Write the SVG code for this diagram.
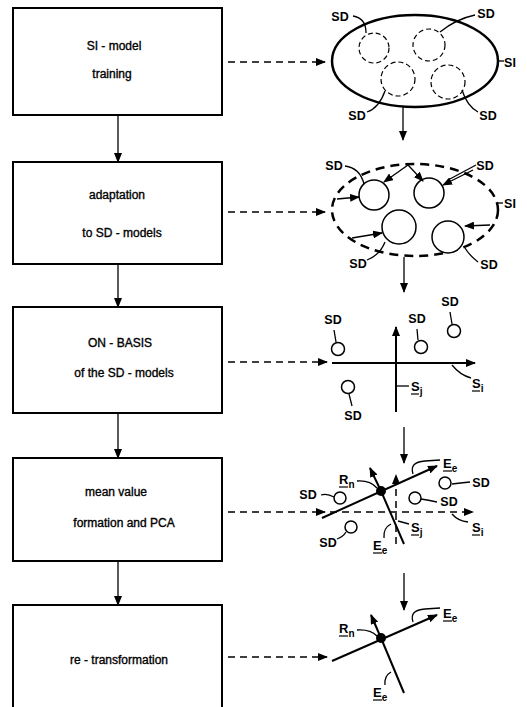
<svg xmlns="http://www.w3.org/2000/svg" width="527" height="707" viewBox="0 0 527 707">
<style>
.box{fill:#fff;stroke:#000;stroke-width:2}
.bt{font-family:"Liberation Sans",Arial,sans-serif;font-size:12px;fill:#000;stroke:#000;stroke-width:0.35;text-anchor:middle}
.lb{font-family:"Liberation Sans",Arial,sans-serif;font-size:12.5px;font-weight:bold;fill:#000;text-anchor:middle}
.sym{font-family:"Liberation Sans",Arial,sans-serif;font-size:13px;font-weight:bold;fill:#000}
.sub{font-size:10px}
.ln{fill:none;stroke:#000;stroke-width:1.3}
.th{fill:none;stroke:#000;stroke-width:2}
.ds{fill:none;stroke:#000;stroke-width:1.5;stroke-dasharray:7,5}
.dc{fill:none;stroke:#000;stroke-width:1.2;stroke-dasharray:5,3}
.ce{fill:#fff;stroke:#000;stroke-width:1.5}
.ul{stroke:#000;stroke-width:1.2}
</style>
<defs>
<marker id="ah" markerWidth="10" markerHeight="8" refX="9" refY="4" orient="auto" markerUnits="userSpaceOnUse">
<path d="M0,0 L10,4 L0,8 Z" fill="#000"/>
</marker>
</defs>

<g id="box1"><rect class="box" x="13" y="8" width="209" height="107"/>
<text class="bt" x="114" y="50">SI - model</text><text class="bt" x="112" y="78">training</text></g>
<g id="box2"><rect class="box" x="13" y="162" width="209" height="102"/>
<text class="bt" x="117" y="199">adaptation</text><text class="bt" x="122" y="237">to SD - models</text></g>
<g id="box3"><rect class="box" x="13" y="307" width="209" height="106"/>
<text class="bt" x="120" y="347">ON  -  BASIS</text><text class="bt" x="124" y="377">of the SD - models</text></g>
<g id="box4"><rect class="box" x="13" y="458" width="209" height="103"/>
<text class="bt" x="116" y="496">mean value</text><text class="bt" x="124" y="527">formation and PCA</text></g>
<g id="box5"><rect class="box" x="13" y="605" width="209" height="120"/>
<text class="bt" x="119" y="664">re - transformation</text></g>

<g id="diagram1">
<ellipse cx="415" cy="61" rx="83" ry="46" fill="none" stroke="#000" stroke-width="2.5"/>
<circle class="dc" cx="374" cy="48" r="15"/>
<circle class="dc" cx="429" cy="45" r="16"/>
<circle class="dc" cx="398" cy="79" r="17"/>
<circle class="dc" cx="448" cy="82" r="17"/>
<text class="lb" x="340" y="21">SD</text><path class="ln" d="M353,16 Q366,18 366,33"/>
<text class="lb" x="486" y="18">SD</text><path class="ln" d="M475,15 Q456,19 440,32"/>
<text class="lb" x="510" y="67">SI</text><path class="ln" d="M498,61 L504,61"/>
<text class="lb" x="357" y="120">SD</text><path class="ln" d="M367,112 Q379,108 385,91"/>
<text class="lb" x="488" y="120">SD</text><path class="ln" d="M478,112 Q467,106 462,90"/>
</g>

<g id="diagram2">
<ellipse cx="415" cy="210" rx="83" ry="46" fill="none" stroke="#000" stroke-width="2.5" stroke-dasharray="9,6"/>
<circle class="ce" cx="374" cy="195" r="15"/>
<circle class="ce" cx="429" cy="193" r="15"/>
<circle class="ce" cx="399" cy="227" r="17"/>
<circle class="ce" cx="448" cy="237" r="16"/>
<text class="lb" x="334" y="170">SD</text><path class="ln" d="M345,166 Q360,168 364,184"/>
<text class="lb" x="485" y="170">SD</text><path class="ln" d="M476,165 L448,180"/>
<text class="lb" x="510" y="208">SI</text><path class="ln" d="M497,203 L503,203"/>
<text class="lb" x="358" y="268">SD</text><path class="ln" d="M367,260 Q380,255 385,242"/>
<text class="lb" x="489" y="269">SD</text><path class="ln" d="M478,262 Q470,256 465,248"/>
</g>

<g id="diagram3">
<circle class="ce" cx="338" cy="349" r="6.5"/>
<circle class="ce" cx="421" cy="347" r="6.5"/>
<circle class="ce" cx="454" cy="331" r="6.5"/>
<circle class="ce" cx="348" cy="387" r="6.5"/>
<text class="lb" x="333" y="324">SD</text><path class="ln" d="M334,330 L336,342"/>
<text class="lb" x="417" y="323">SD</text><path class="ln" d="M417,329 L418,340"/>
<text class="lb" x="450" y="306">SD</text><path class="ln" d="M450,312 L452,324"/>
<text class="lb" x="353" y="420">SD</text><path class="ln" d="M349,394 L352,406"/>
<text class="sym" x="472" y="388">S<tspan class="sub" dy="4">i</tspan></text><line class="ul" x1="472" y1="391" x2="480" y2="391"/>
<path class="ln" d="M452,365 Q460,375 471,378"/>
<text class="sym" x="411" y="391">S<tspan class="sub" dy="4">j</tspan></text><line class="ul" x1="411" y1="394" x2="419" y2="394"/>
<path class="ln" d="M397,386 L409,386"/>
</g>

<g id="diagram4">
<circle class="ce" cx="340" cy="498" r="6"/>
<circle class="ce" cx="415" cy="498" r="6"/>
<circle class="ce" cx="445" cy="483" r="6"/>
<circle class="ce" cx="351" cy="527" r="6"/>
<text class="lb" x="308" y="499">SD</text><path class="ln" d="M321,495 Q327,493 334,497"/>
<text class="lb" x="481" y="487">SD</text><path class="ln" d="M452,484 Q460,483 470,482"/>
<text class="lb" x="449" y="506">SD</text><path class="ln" d="M421,499 Q428,500 437,502"/>
<text class="lb" x="328" y="547">SD</text><path class="ln" d="M337,539 Q343,537 346,532"/>
<circle cx="381" cy="491" r="5" fill="#000"/>
<text class="sym" x="339" y="484">R<tspan class="sub" dy="4">n</tspan></text><line class="ul" x1="339" y1="487" x2="348" y2="487"/>
<path class="ln" d="M357,481 Q370,480 377,488"/>
<text class="sym" x="443" y="468">E<tspan class="sub" dy="4">e</tspan></text><line class="ul" x1="443" y1="471" x2="452" y2="471"/>
<path class="ln" d="M413,474 Q409,462 425,461 L440,460"/>
<text class="sym" x="373" y="550">E<tspan class="sub" dy="4">e</tspan></text><line class="ul" x1="373" y1="553" x2="382" y2="553"/>
<path class="ln" d="M384,538 Q383,528 391,524"/>
<text class="sym" x="411" y="532">S<tspan class="sub" dy="4">j</tspan></text><line class="ul" x1="411" y1="535" x2="419" y2="535"/>
<path class="ln" d="M398,521 L409,524"/>
<text class="sym" x="472" y="532">S<tspan class="sub" dy="4">i</tspan></text><line class="ul" x1="472" y1="535" x2="480" y2="535"/>
<path class="ln" d="M452,514 Q458,521 468,522"/>
</g>

<g id="diagram5">
<circle cx="381" cy="638" r="5" fill="#000"/>
<text class="sym" x="339" y="633">R<tspan class="sub" dy="4">n</tspan></text><line class="ul" x1="339" y1="636" x2="348" y2="636"/>
<path class="ln" d="M357,630 Q370,629 377,636"/>
<text class="sym" x="443" y="618">E<tspan class="sub" dy="4">e</tspan></text><line class="ul" x1="443" y1="621" x2="452" y2="621"/>
<path class="ln" d="M413,622 Q409,610 425,609 L440,608"/>
<text class="sym" x="373" y="697">E<tspan class="sub" dy="4">e</tspan></text><line class="ul" x1="373" y1="700" x2="382" y2="700"/>
<path class="ln" d="M385,685 Q384,676 391,672"/>
</g>

<g id="connectors">
<line class="ln" x1="118" y1="115" x2="118" y2="162" marker-end="url(#ah)"/>
<line class="ln" x1="118" y1="264" x2="118" y2="307" marker-end="url(#ah)"/>
<line class="ln" x1="118" y1="413" x2="118" y2="458" marker-end="url(#ah)"/>
<line class="ln" x1="118" y1="561" x2="118" y2="605" marker-end="url(#ah)"/>
<line class="ds" x1="228" y1="62" x2="325" y2="62" marker-end="url(#ah)"/>
<line class="ds" x1="228" y1="212" x2="325" y2="212" marker-end="url(#ah)"/>
<line class="ds" x1="228" y1="362" x2="327" y2="362" marker-end="url(#ah)"/>
<line class="ds" x1="228" y1="512" x2="325" y2="512" marker-end="url(#ah)"/>
<line class="ds" x1="228" y1="657" x2="327" y2="657" marker-end="url(#ah)"/>
<line class="ln" x1="403" y1="107" x2="403" y2="140" marker-end="url(#ah)"/>
<line class="ln" x1="404" y1="257" x2="404" y2="292" marker-end="url(#ah)"/>
<line class="ln" x1="404" y1="427" x2="404" y2="463" marker-end="url(#ah)"/>
<line class="ln" x1="404" y1="573" x2="404" y2="610" marker-end="url(#ah)"/>
<line class="ln" x1="408" y1="165" x2="384" y2="182" marker-end="url(#ah)"/>
<line class="ln" x1="408" y1="165" x2="423" y2="181" marker-end="url(#ah)"/>
<line class="ln" x1="337" y1="199" x2="359" y2="197" marker-end="url(#ah)"/>
<line class="ln" x1="352" y1="238" x2="382" y2="233" marker-end="url(#ah)"/>
<line class="ln" x1="490" y1="225" x2="465" y2="226" marker-end="url(#ah)"/>
<line class="ln" x1="473" y1="170" x2="443" y2="185" marker-end="url(#ah)"/>
<line class="th" x1="332" y1="363" x2="475" y2="363" marker-end="url(#ah)"/>
<line class="th" x1="396" y1="412" x2="396" y2="327" marker-end="url(#ah)"/>
<line class="th" x1="322" y1="518" x2="437" y2="466" marker-end="url(#ah)"/>
<line class="th" x1="381" y1="491" x2="370" y2="468" marker-end="url(#ah)"/>
<line class="th" x1="381" y1="491" x2="404" y2="544"/>
<line class="ds" x1="396" y1="544" x2="396" y2="475" marker-end="url(#ah)"/>
<line class="ds" x1="330" y1="512" x2="473" y2="512" marker-end="url(#ah)"/>
<line class="th" x1="332" y1="661" x2="437" y2="615" marker-end="url(#ah)"/>
<line class="th" x1="381" y1="638" x2="371" y2="615" marker-end="url(#ah)"/>
<line class="th" x1="381" y1="638" x2="404" y2="693"/>
</g>
</svg>
